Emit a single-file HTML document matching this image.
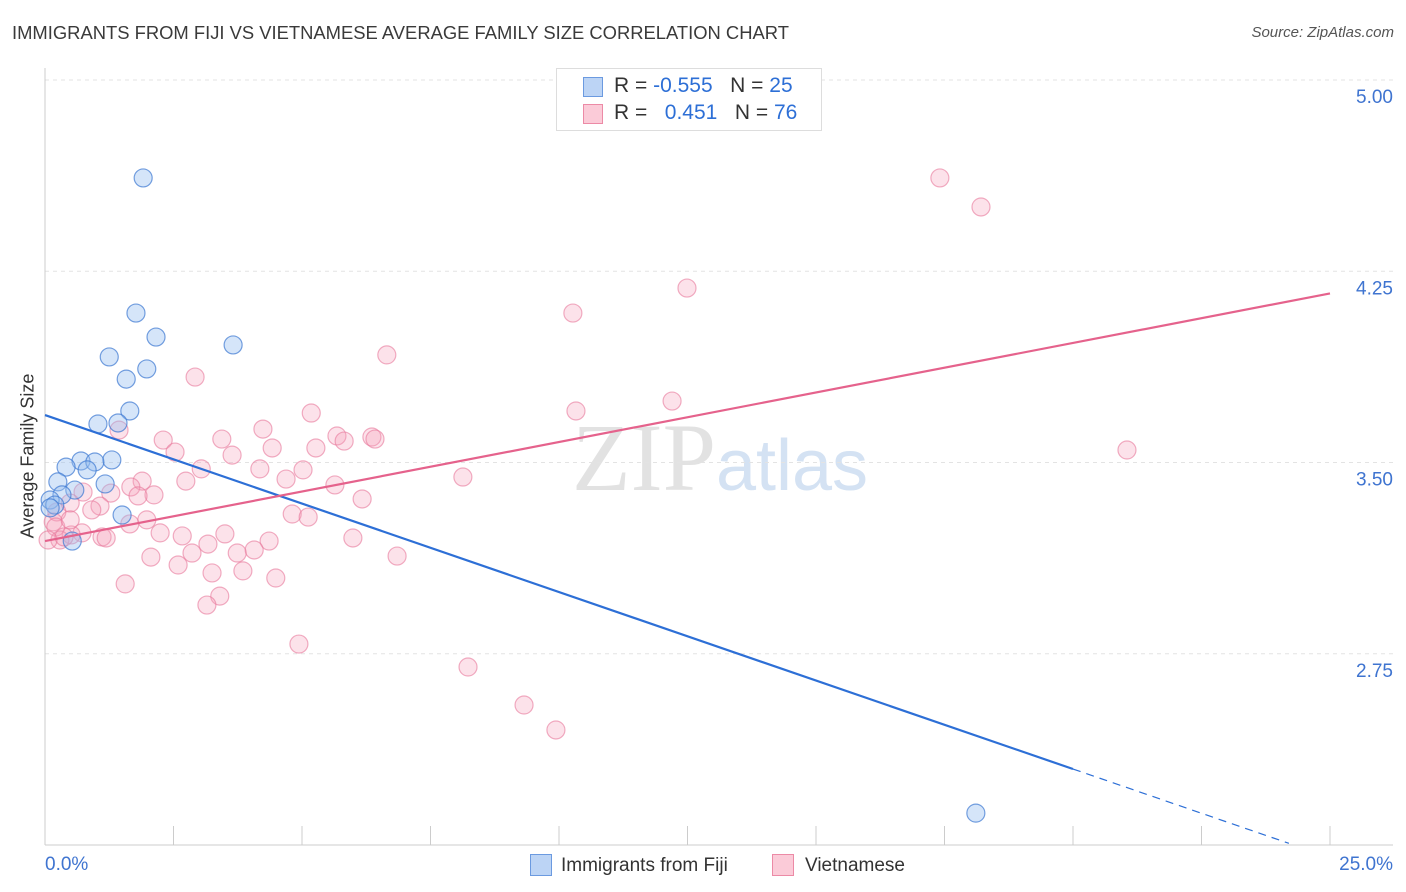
<!DOCTYPE html>
<html><head><meta charset="utf-8"><style>
body{margin:0;background:#fff;font-family:"Liberation Sans",sans-serif;}
#wrap{position:relative;width:1406px;height:892px;overflow:hidden;}
.t{position:absolute;white-space:nowrap;}
</style></head><body>
<div id="wrap">
<div class="t" style="left:12px;top:22px;font-size:18.4px;color:#3a3a3a;">IMMIGRANTS FROM FIJI VS VIETNAMESE AVERAGE FAMILY SIZE CORRELATION CHART</div>
<div class="t" style="right:12px;top:24px;font-size:15px;color:#555;font-style:italic;">Source: ZipAtlas.com</div>
<svg id="svg" width="1406" height="892" style="position:absolute;left:0;top:0">
<text x="720" y="490" text-anchor="middle" font-size="96" font-family="Liberation Serif" fill="#e2e2e2">ZIP<tspan fill="#d4e2f3" font-family="Liberation Sans" font-size="72">atlas</tspan></text>
</svg>
<div style="position:absolute;left:556px;top:68px;width:264px;height:61px;border:1px solid #ddd;background:#fff;font-size:21px;">
 <div style="position:absolute;left:26px;top:8px;width:18px;height:18px;background:#bcd4f5;border:1px solid #6b9ae0;"></div>
 <div class="t" style="left:57px;top:5px;color:#333;">R = <span style="color:#2d6fd6">-0.555</span>&nbsp;&nbsp;&nbsp;N = <span style="color:#2d6fd6">25</span></div>
 <div style="position:absolute;left:26px;top:35px;width:18px;height:18px;background:#fbcbd8;border:1px solid #ec8aa6;"></div>
 <div class="t" style="left:57px;top:32px;color:#333;">R = &nbsp;&nbsp;<span style="color:#2d6fd6">0.451</span>&nbsp;&nbsp;&nbsp;N = <span style="color:#2d6fd6">76</span></div>
</div>
<div class="t" style="left:28px;top:456px;font-size:18px;color:#333;transform:translate(-50%,-50%) rotate(-90deg);">Average Family Size</div>
<div>
 <div style="position:absolute;left:530px;top:854px;width:20px;height:20px;background:#bcd4f5;border:1px solid #6b9ae0;"></div>
 <div class="t" style="left:561px;top:855px;font-size:19px;color:#333;">Immigrants from Fiji</div>
 <div style="position:absolute;left:772px;top:854px;width:20px;height:20px;background:#fbcbd8;border:1px solid #ec8aa6;"></div>
 <div class="t" style="left:805px;top:855px;font-size:19px;color:#333;">Vietnamese</div>
</div>
</div>
<script>
const fijiX=[1.91,1.77,2.16,3.66,1.25,1.98,1.58,1.65,1.03,1.42,0.70,1.30,0.41,0.97,0.82,0.25,0.58,1.17,0.33,0.10,0.19,1.50,0.53,0.10,18.11];
const fijiY=[4.616,4.086,3.992,3.961,3.914,3.867,3.827,3.702,3.651,3.655,3.506,3.510,3.482,3.502,3.471,3.424,3.392,3.416,3.373,3.353,3.333,3.294,3.192,3.322,2.125];
const vietX=[17.41,18.21,12.49,10.27,6.65,2.92,10.33,12.20,5.18,1.44,4.24,2.30,3.44,5.68,5.82,6.36,6.42,5.27,4.42,2.53,3.64,21.05,3.04,4.18,5.02,8.13,2.74,4.69,5.64,1.89,1.67,1.28,0.74,2.12,1.81,6.17,0.49,1.07,0.91,0.23,4.81,5.12,1.98,0.16,0.21,1.65,2.24,2.67,3.50,0.72,0.51,1.11,0.29,0.06,0.37,1.19,3.17,4.36,5.99,2.06,3.74,4.07,2.86,6.85,2.59,3.25,3.85,4.49,1.56,3.40,3.15,4.94,8.23,9.32,9.94,0.49];
const vietY=[4.616,4.502,4.184,4.086,3.922,3.835,3.702,3.741,3.694,3.627,3.631,3.588,3.592,3.604,3.584,3.600,3.592,3.557,3.557,3.541,3.529,3.549,3.475,3.475,3.471,3.443,3.427,3.435,3.412,3.427,3.404,3.380,3.384,3.373,3.369,3.357,3.341,3.329,3.314,3.306,3.298,3.286,3.275,3.267,3.247,3.259,3.224,3.212,3.220,3.224,3.216,3.208,3.196,3.196,3.208,3.204,3.180,3.192,3.204,3.129,3.145,3.157,3.145,3.133,3.098,3.067,3.075,3.047,3.024,2.976,2.941,2.788,2.698,2.549,2.451,3.275];
const yTicks=[5.00,4.25,3.50,2.75];
const yTickLabels=["5.00","4.25","3.50","2.75"];
const xTickVals=[0,2.5,5,7.5,10,12.5,15,17.5,20,22.5,25];
const fijiTrend=[3.686,-0.0694];
const vietTrend=[3.192,0.03884];
const fijiSolidEnd=20, fijiDashEnd=24.2;

const X=v=>45+v*51.4;
const Y=v=>80+(5-v)*255;
const svg=document.getElementById('svg');
const NS='http://www.w3.org/2000/svg';
function mk(tag,attrs){const e=document.createElementNS(NS,tag);for(const k in attrs)e.setAttribute(k,attrs[k]);svg.appendChild(e);return e;}
yTicks.forEach((t,i)=>{
 const g=mk('line',{x1:45,x2:1393,y1:Y(t),y2:Y(t),stroke:'#e3e3e3','stroke-dasharray':'4 4'});
 
 
 const tx=mk('text',{x:1393,y:Y(t)+23,'text-anchor':'end','font-size':19,fill:'#3f74d0'});
 tx.textContent=yTickLabels[i];
 
 
});
const ax=mk('line',{x1:45,x2:1393,y1:845,y2:845,stroke:'#ccc'});


const ay=mk('line',{x1:45,x2:45,y1:68,y2:845,stroke:'#ccc'});


xTickVals.forEach(v=>{
 const t=mk('line',{x1:X(v),x2:X(v),y1:826,y2:845,stroke:'#ccc'});
 
 
});
const xl0=mk('text',{x:45,y:870,'font-size':19,fill:'#3f74d0'});xl0.textContent='0.0%';


const xl1=mk('text',{x:1393,y:870,'font-size':19,fill:'#3f74d0','text-anchor':'end'});xl1.textContent='25.0%';


vietX.forEach((x,i)=>{
 const c=mk('circle',{cx:X(x),cy:Y(vietY[i]),r:9,fill:'rgba(246,160,185,0.3)',stroke:'rgba(232,120,155,0.6)','stroke-width':1.2});
 
 
});
fijiX.forEach((x,i)=>{
 const c=mk('circle',{cx:X(x),cy:Y(fijiY[i]),r:9,fill:'rgba(150,190,240,0.4)',stroke:'rgba(60,120,210,0.7)','stroke-width':1.2});
 
 
});
const fy=v=>fijiTrend[0]+fijiTrend[1]*v, vy=v=>vietTrend[0]+vietTrend[1]*v;
const l1=mk('line',{x1:X(0),y1:Y(fy(0)),x2:X(fijiSolidEnd),y2:Y(fy(fijiSolidEnd)),stroke:'#2d6fd6','stroke-width':2.2});


const l2=mk('line',{x1:X(fijiSolidEnd),y1:Y(fy(fijiSolidEnd)),x2:X(fijiDashEnd),y2:Y(fy(fijiDashEnd)),stroke:'#2d6fd6','stroke-width':1.2,'stroke-dasharray':'8 6'});


const l3=mk('line',{x1:X(0),y1:Y(vy(0)),x2:X(25),y2:Y(vy(25)),stroke:'#e5628c','stroke-width':2.2});


</script>
</body></html>
